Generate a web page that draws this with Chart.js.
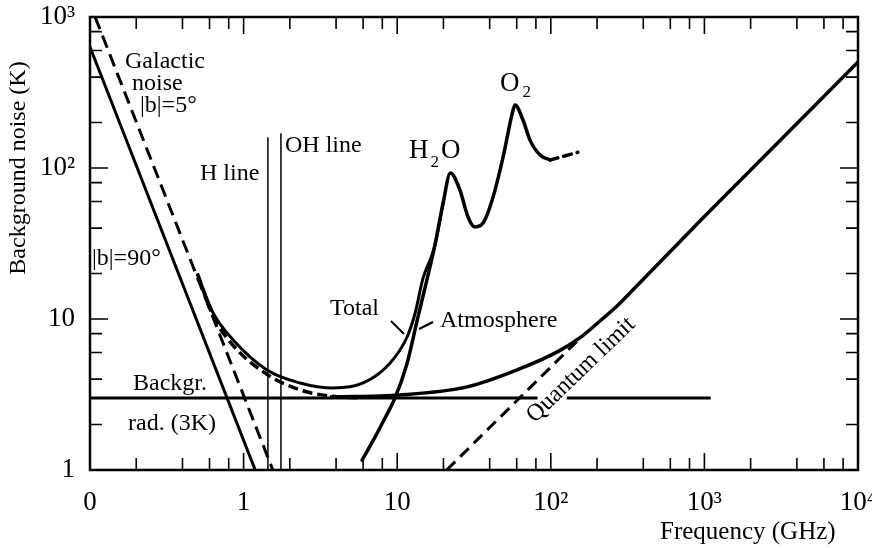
<!DOCTYPE html>
<html><head><meta charset="utf-8">
<script src="https://cdn.jsdelivr.net/npm/chart.js@4.4.0/dist/chart.umd.min.js"></script>
<style>html,body{margin:0;padding:0;background:#fff;overflow:hidden}#wrap{width:872px;height:548px;position:relative}</style>
</head><body><div id="wrap"><canvas id="c"></canvas></div>
<script>
// ---------- data (frequency in GHz, temperature in K) ----------
const xTickValues = [0.1, 1, 10, 100, 1000, 10000];
const xTickLabels = ['0', '1', '10', '10\u00B2', '10\u00B3', '10\u2074'];
const yTickValues = [1, 10, 100, 1000];
const yTickLabels = ['1', '10', '10\u00B2', '10\u00B3'];
const minorMultipliers = [2, 4, 6, 8];

const gal90F = [0.1, 1.19];
const gal90T = [633, 1];
const gal5F = [0.108, 1.55];
const gal5T = [1000, 1];

const totalF = [0.50, 0.632, 0.853, 1.42, 2.33, 3.82, 6.0, 8.97, 11.6, 13.1, 14.7, 17.5, 19.9];
const totalT = [20, 11, 7.3, 4.6, 3.77, 3.49, 3.77, 5.1, 7.6, 11, 18.5, 30, 58.6];

const skyF = [0.50, 0.632, 0.853, 1.42, 2.33, 3.65, 5.7];
const skyT = [20, 10.5, 6.7, 4.3, 3.39, 3.09, 3.0];

const atmF = [5.9, 7.17, 8.33, 9.68, 11.6, 13.5, 15.6, 17.5, 19.9, 22.2, 25.6, 28.9, 32, 36.2, 42.1, 48.9, 56.8, 58.5, 65.9, 73.2, 85.1, 99];
const atmT = [1.16, 1.65, 2.21, 3.0, 5.1, 9.84, 18.1, 30, 58.6, 92.7, 71.5, 47.4, 40.7, 43.2, 64.3, 118, 242, 261, 208, 153, 122, 113];
const atmExtF = [99, 150];
const atmExtT = [113, 127];

const cmbLeftF = [0.1, 82];
const cmbRightF = [127, 1100];
const cmbT = [3, 3];

const spaceF = [3.65, 10.4, 28.5, 60.3, 115, 160, 209, 270, 343, 1000, 1837, 10000];
const spaceT = [3.04, 3.14, 3.55, 4.6, 6.2, 7.7, 9.7, 12.2, 15.6, 47.7, 88.8, 504];

const quantumF = [21, 160];
const quantumT = [1, 7.7];

const hLineF = [1.44, 1.44];
const hLineT = [1, 160];
const ohLineF = [1.75, 1.75];
const ohLineT = [1, 170];

// ---------- helpers ----------
const pts = (F, T) => F.map((f, i) => ({x: f, y: T[i]}));
const SERIF = "'Liberation Serif','Times New Roman',serif";

function ds(F, T, opt) {
  return Object.assign({
    data: pts(F, T), borderColor: '#000', borderWidth: 3, pointRadius: 0,
    fill: false, tension: 0, borderCapStyle: 'butt', borderJoinStyle: 'round'
  }, opt || {});
}

const datasets = [
  ds(gal90F, gal90T, {borderWidth: 3}),
  ds(gal5F, gal5T, {borderWidth: 3, borderDash: [13, 7]}),
  ds(skyF, skyT, {borderWidth: 3.5, borderDash: [10, 5], cubicInterpolationMode: 'monotone'}),
  ds(totalF, totalT, {borderWidth: 3, cubicInterpolationMode: 'monotone'}),
  ds(atmF, atmT, {borderWidth: 3.5, cubicInterpolationMode: 'monotone', borderCapStyle: 'round'}),
  ds(atmExtF, atmExtT, {borderWidth: 3.5, borderDash: [8, 6], borderCapStyle: 'round'}),
  ds(cmbLeftF, cmbT, {borderWidth: 3}),
  ds(cmbRightF, cmbT, {borderWidth: 3}),
  ds(spaceF, spaceT, {borderWidth: 3.5, cubicInterpolationMode: 'monotone'}),
  ds(quantumF, quantumT, {borderWidth: 3, borderDash: [12, 7]}),
  ds(hLineF, hLineT, {borderWidth: 1.5}),
  ds(ohLineF, ohLineT, {borderWidth: 1.5})
];

// ---------- annotations (text) ----------
const labels = [
  {t: 'Galactic', x: 125, y: 68},
  {t: 'noise', x: 132, y: 90},
  {t: '|b|=5\u00B0', x: 140, y: 112},
  {t: 'H line', x: 200, y: 180},
  {t: 'OH line', x: 285, y: 152},
  {t: '|b|=90\u00B0', x: 92, y: 265},
  {t: 'Total', x: 330, y: 315},
  {t: 'Atmosphere', x: 440, y: 327},
  {t: 'Backgr.', x: 133, y: 390},
  {t: 'rad. (3K)', x: 128, y: 430}
];

const decor = {
  id: 'decor',
  afterDraw(chart) {
    const {ctx, chartArea: a, scales: {x, y}} = chart;
    ctx.save();
    ctx.strokeStyle = '#000';
    ctx.fillStyle = '#000';
    // frame
    ctx.lineWidth = 2.5;
    ctx.strokeRect(a.left, a.top, a.right - a.left, a.bottom - a.top);
    // inward ticks on all four sides
    ctx.lineWidth = 1.6;
    const xs = [], ys = [];
    for (let d = -1; d <= 4; d++) {
      xs.push([Math.pow(10, d), 1]);
      if (d < 4) minorMultipliers.forEach(m => xs.push([m * Math.pow(10, d), 0]));
    }
    for (let d = 0; d <= 3; d++) {
      ys.push([Math.pow(10, d), 1]);
      if (d < 3) minorMultipliers.forEach(m => ys.push([m * Math.pow(10, d), 0]));
    }
    ctx.beginPath();
    xs.forEach(([v, major]) => {
      const px = x.getPixelForValue(v), L = major ? 17 : 12;
      ctx.moveTo(px, a.bottom); ctx.lineTo(px, a.bottom - L);
      ctx.moveTo(px, a.top); ctx.lineTo(px, a.top + L);
    });
    ys.forEach(([v, major]) => {
      const py = y.getPixelForValue(v), L = major ? 18 : 12;
      ctx.moveTo(a.left, py); ctx.lineTo(a.left + L, py);
      ctx.moveTo(a.right, py); ctx.lineTo(a.right - L, py);
    });
    ctx.stroke();

    // pointer lines for "Total" and "Atmosphere"
    ctx.lineWidth = 2;
    ctx.beginPath();
    ctx.moveTo(391, 321); ctx.lineTo(404, 334);
    ctx.moveTo(433, 322); ctx.lineTo(419, 329);
    ctx.stroke();

    // text labels
    ctx.textBaseline = 'alphabetic';
    ctx.textAlign = 'left';
    ctx.font = '24px ' + SERIF;
    labels.forEach(l => ctx.fillText(l.t, l.x, l.y));

    // H2O
    ctx.font = '27px ' + SERIF;
    ctx.fillText('H', 409, 158);
    let w = ctx.measureText('H').width;
    ctx.font = '17px ' + SERIF;
    ctx.fillText('2', 409 + w + 2, 167);
    let w2 = ctx.measureText('2').width;
    ctx.font = '27px ' + SERIF;
    ctx.fillText('O', 409 + w + w2 + 4, 158);
    // O2
    ctx.fillText('O', 500, 91);
    w = ctx.measureText('O').width;
    ctx.font = '17px ' + SERIF;
    ctx.fillText('2', 500 + w + 3, 97);

    // Quantum limit (rotated)
    ctx.save();
    ctx.translate(581, 370);
    ctx.rotate(-44 * Math.PI / 180);
    ctx.font = '24px ' + SERIF;
    ctx.textAlign = 'center';
    ctx.textBaseline = 'middle';
    ctx.fillText('Quantum limit', 0, 0);
    ctx.restore();

    // axis titles
    ctx.font = '25px ' + SERIF;
    ctx.textAlign = 'left';
    ctx.textBaseline = 'alphabetic';
    ctx.fillText('Frequency (GHz)', 660, 539);
    ctx.save();
    ctx.translate(25, 168);
    ctx.rotate(-Math.PI / 2);
    ctx.textAlign = 'center';
    ctx.font = '24px ' + SERIF;
    ctx.fillText('Background noise (K)', 0, 0);
    ctx.restore();
    ctx.restore();
  }
};

new Chart(document.getElementById('c'), {
  type: 'line',
  data: {datasets},
  options: {
    responsive: true, maintainAspectRatio: false, animation: false,
    events: [],
    layout: {padding: {left: 0, top: 17, right: 14, bottom: 0}},
    plugins: {legend: {display: false}, tooltip: {enabled: false}},
    scales: {
      x: {
        type: 'logarithmic', min: 0.1, max: 10000,
        grid: {display: false, drawTicks: false},
        border: {display: false},
        afterBuildTicks: s => { s.ticks = xTickValues.map(v => ({value: v})); },
        afterFit: s => { s.height = 78; s.paddingLeft = 0; s.paddingRight = 0; },
        ticks: {
          autoSkip: false, maxRotation: 0, padding: 17, color: '#000',
          font: {family: SERIF, size: 27},
          callback: v => { const i = xTickValues.indexOf(v); return i >= 0 ? xTickLabels[i] : ''; }
        }
      },
      y: {
        type: 'logarithmic', min: 1, max: 1000,
        grid: {display: false, drawTicks: false},
        border: {display: false},
        afterBuildTicks: s => { s.ticks = yTickValues.map(v => ({value: v})); },
        afterFit: s => { s.width = 90; s.paddingTop = 0; s.paddingBottom = 0; },
        ticks: {
          autoSkip: false, padding: 15, color: '#000',
          font: {family: SERIF, size: 27},
          callback: v => { const i = yTickValues.indexOf(v); return i >= 0 ? yTickLabels[i] : ''; }
        }
      }
    }
  },
  plugins: [decor]
});
</script>
</body></html>
